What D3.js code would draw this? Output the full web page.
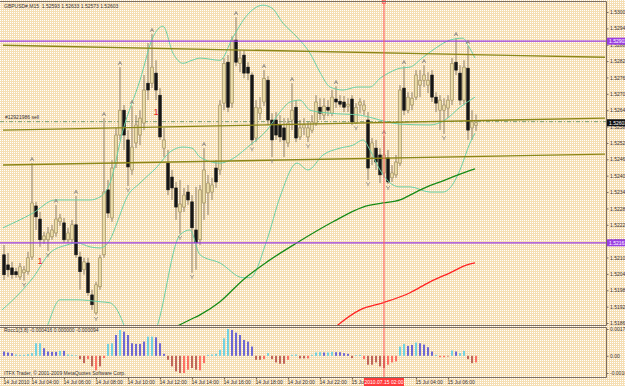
<!DOCTYPE html>
<html>
<head>
<meta charset="utf-8">
<script src="https://cdn.jsdelivr.net/npm/d3@7/dist/d3.min.js"></script>
<style>
  html, body { margin: 0; padding: 0; overflow: hidden; background: #f5deb3; }
  text { font-family: 'Liberation Sans', Arial, sans-serif; }
</style>
</head>
<body>
<div id="chart"></div>
<script>
// ── Colours ─────────────────────────────────────────────────────
const C = {
  bg: '#f5deb3', dot: '#ffffff', frame: '#7d6e60', text: '#3a3030',
  bullFill: '#e8d9a6', bullLine: '#948456', bearFill: '#161616', wick: '#908068',
  band: '#6ccfa5', ma1: '#178a17', ma2: '#ff2424', trend: '#8c8618',
  purple: '#9a3ee2', vline: '#ff5a5a', sell: '#5f8a58', fractal: '#8a8580',
  signal: '#e81c1c',
  hist: { c: '#2cc6f0', b: '#2424dc', r: '#ff3434', d: '#a42222' },
};

// ── GBPUSD M15 bars, 14 Jul 02:15 → 15 Jul 07:45 ────────────────
const opens = [
  1.52119,1.52082,1.52071,1.52057,1.52038,1.52053,1.52057,1.52111,1.52298,1.52250,
  1.52174,1.52174,1.52185,1.52199,1.52240,1.52236,1.52174,1.52174,1.52229,1.52111,
  1.52064,1.52089,1.51972,1.51906,1.52002,1.52119,1.52357,1.52254,1.52455,1.52558,
  1.52649,1.52540,1.52430,1.52529,1.52558,1.52602,1.52748,1.52748,1.52785,1.52704,
  1.52510,1.52455,1.52404,1.52364,1.52276,1.52294,1.52349,1.52313,1.52210,1.52174,
  1.52309,1.52346,1.52349,1.52437,1.52430,1.52675,1.52825,1.52675,1.52906,1.52821,
  1.52851,1.52807,1.52778,1.52547,1.52638,1.52679,1.52759,1.52613,1.52613,1.52595,
  1.52584,1.52529,1.52613,1.52660,1.52551,1.52584,1.52551,1.52576,1.52602,1.52660,
  1.52631,1.52660,1.52638,1.52690,1.52682,1.52679,1.52664,1.52690,1.52602,1.52668,
  1.52649,1.52613,1.52477,1.52510,1.52485,1.52419,1.52474,1.52401,1.52412,1.52455,
  1.52730,1.52649,1.52668,1.52697,1.52741,1.52759,1.52741,1.52778,1.52697,1.52649,
  1.52649,1.52657,1.52686,1.52825,1.52785,1.52686,1.52803,1.52584,1.52593
];
const highs = [
  1.52155,1.52126,1.52093,1.52071,1.52089,1.52078,1.52130,1.52455,1.52313,1.52276,
  1.52203,1.52221,1.52229,1.52302,1.52269,1.52254,1.52218,1.52247,1.52335,1.52130,
  1.52108,1.52108,1.51991,1.52020,1.52119,1.52620,1.52393,1.52466,1.52584,1.52807,
  1.52668,1.52576,1.52664,1.52631,1.52649,1.52778,1.52895,1.52928,1.52832,1.52730,
  1.52584,1.52503,1.52430,1.52386,1.52393,1.52364,1.52375,1.52338,1.52368,1.52375,
  1.52510,1.52412,1.52401,1.52466,1.52686,1.52840,1.52851,1.52920,1.52990,1.52869,
  1.52869,1.52825,1.52788,1.52686,1.52697,1.52796,1.52774,1.52638,1.52642,1.52631,
  1.52620,1.52620,1.52748,1.52686,1.52613,1.52620,1.52606,1.52631,1.52704,1.52693,
  1.52693,1.52686,1.52723,1.52737,1.52704,1.52701,1.52693,1.52704,1.52675,1.52693,
  1.52686,1.52642,1.52547,1.52540,1.52510,1.52554,1.52503,1.52448,1.52485,1.52741,
  1.52810,1.52715,1.52715,1.52796,1.52796,1.52814,1.52788,1.52796,1.52715,1.52704,
  1.52693,1.52704,1.52840,1.52913,1.52814,1.52832,1.52884,1.52649,1.52633
];
const lows = [
  1.52027,1.52038,1.52031,1.52035,1.52027,1.52024,1.52046,1.52100,1.52210,1.52148,
  1.52159,1.52133,1.52174,1.52185,1.52225,1.52163,1.52163,1.52163,1.52108,1.51991,
  1.52046,1.51969,1.51917,1.51899,1.51991,1.52108,1.52254,1.52240,1.52437,1.52540,
  1.52503,1.52371,1.52412,1.52510,1.52521,1.52576,1.52686,1.52730,1.52686,1.52540,
  1.52477,1.52338,1.52320,1.52247,1.52196,1.52276,1.52302,1.52053,1.52064,1.52155,
  1.52247,1.52265,1.52320,1.52364,1.52412,1.52649,1.52642,1.52657,1.52810,1.52788,
  1.52766,1.52759,1.52521,1.52532,1.52613,1.52664,1.52595,1.52477,1.52540,1.52532,
  1.52477,1.52514,1.52576,1.52532,1.52540,1.52558,1.52532,1.52565,1.52591,1.52613,
  1.52613,1.52627,1.52627,1.52657,1.52660,1.52642,1.52642,1.52595,1.52598,1.52638,
  1.52631,1.52393,1.52448,1.52430,1.52382,1.52401,1.52379,1.52386,1.52401,1.52444,
  1.52631,1.52638,1.52649,1.52686,1.52697,1.52734,1.52712,1.52679,1.52642,1.52576,
  1.52562,1.52620,1.52668,1.52778,1.52668,1.52668,1.52540,1.52540,1.52573
];
const closes = [
  1.52046,1.52064,1.52046,1.52046,1.52075,1.52064,1.52108,1.52309,1.52258,1.52174,
  1.52188,1.52199,1.52210,1.52250,1.52254,1.52174,1.52199,1.52229,1.52119,1.52057,
  1.52093,1.51980,1.51936,1.52009,1.52108,1.52349,1.52272,1.52437,1.52558,1.52649,
  1.52558,1.52441,1.52514,1.52595,1.52620,1.52723,1.52723,1.52807,1.52723,1.52551,
  1.52540,1.52357,1.52364,1.52294,1.52305,1.52338,1.52320,1.52218,1.52163,1.52357,
  1.52430,1.52382,1.52375,1.52386,1.52668,1.52821,1.52660,1.52906,1.52825,1.52840,
  1.52785,1.52785,1.52540,1.52660,1.52657,1.52766,1.52613,1.52540,1.52558,1.52551,
  1.52540,1.52602,1.52649,1.52547,1.52584,1.52595,1.52584,1.52606,1.52679,1.52638,
  1.52664,1.52649,1.52697,1.52679,1.52671,1.52660,1.52671,1.52606,1.52660,1.52679,
  1.52668,1.52437,1.52529,1.52459,1.52412,1.52485,1.52386,1.52419,1.52459,1.52723,
  1.52649,1.52697,1.52693,1.52778,1.52759,1.52778,1.52759,1.52697,1.52675,1.52686,
  1.52668,1.52686,1.52821,1.52796,1.52686,1.52807,1.52576,1.52606,1.52603
];

// ── Indicator lines: [bar index, price] ─────────────────────────
const bbUpper = [
  [-0.25,1.52218],[7.25,1.52272],[12.75,1.52320],[21.5,1.52320],[24,1.52331],[26.5,1.52382],
  [29.75,1.52576],[34,1.52759],[37.25,1.52917],[39.75,1.52957],[42.25,1.52858],[44.75,1.52821],
  [47,1.52832],[49,1.52840],[54,1.52832],[57.25,1.52917],[60.75,1.52997],[64.75,1.53034],
  [67,1.53023],[69.75,1.52968],[73.25,1.52917],[76.5,1.52858],[79,1.52788],[81.5,1.52734],
  [84.75,1.52723],[88.25,1.52734],[91.5,1.52734],[94,1.52766],[96.5,1.52788],[99,1.52803],
  [101.5,1.52807],[104.75,1.52843],[108.25,1.52880],[111.5,1.52906],[114.75,1.52913],
  [116,1.52887],[117.75,1.52840]
];
const bbMiddle = [
  [-0.5,1.51917],[4,1.51980],[7.25,1.52035],[11.5,1.52126],[15.75,1.52155],[18.25,1.52163],
  [21.5,1.52148],[24,1.52144],[26.5,1.52174],[28.25,1.52236],[30.75,1.52331],[34,1.52382],
  [38.25,1.52441],[41.5,1.52496],[44.75,1.52514],[47,1.52510],[49,1.52477],[54,1.52455],
  [56.5,1.52466],[61.5,1.52521],[65.75,1.52576],[69,1.52642],[71.5,1.52679],[74,1.52686],
  [76.5,1.52649],[81.5,1.52638],[89,1.52631],[92.25,1.52620],[95.75,1.52606],[99,1.52598],
  [106.5,1.52595],[110.25,1.52613],[114,1.52660],[117.75,1.52697]
];
const bbLower = [
  [9,1.51789],[10.75,1.51855],[14,1.51954],[18.25,1.51954],[24,1.51947],[26.5,1.51943],
  [29.75,1.51870],[31.5,1.51789],[34,1.51698],[36.5,1.51789],[38.25,1.51855],[44,1.52192],
  [46.5,1.52210],[49,1.52119],[54,1.52089],[59.75,1.52035],[61.5,1.52035],[65.75,1.52174],
  [69,1.52331],[73.25,1.52455],[76,1.52430],[79.75,1.52485],[84,1.52510],[87.25,1.52521],
  [89.75,1.52540],[91.5,1.52503],[94,1.52430],[97.25,1.52375],[99,1.52368],[101.5,1.52368],
  [106.5,1.52349],[109.75,1.52349],[111.5,1.52364],[114,1.52430],[116.5,1.52529],[117.75,1.52565]
];
const maGreen = [
  [39,1.51826],[43.5,1.51859],[46.5,1.51881],[49,1.51899],[54,1.51947],[59.75,1.52027],
  [65.75,1.52093],[73.25,1.52163],[82.25,1.52240],[89.75,1.52294],[94.75,1.52309],[99,1.52320],
  [101.5,1.52338],[105.75,1.52368],[109.75,1.52390],[114,1.52415],[117.75,1.52434]
];
const maRed = [
  [81.5,1.51837],[83.5,1.51862],[89,1.51917],[94.75,1.51943],[101.5,1.51980],[106.5,1.52020],
  [111.5,1.52053],[115.75,1.52082],[117.75,1.52089]
];

// ── Fractals and signal marks ───────────────────────────────────
const upFractals   = [7, 13, 18, 25, 29, 32, 37, 50, 58, 65, 72, 83, 95, 100, 105, 113, 116];
const downFractals = [5, 11, 23, 31, 44, 47, 62, 67, 76, 88, 91, 96, 110];
const signalBars   = [9, 38];
const signalPrices = [1.52097, 1.52642];

// ── Chart objects ───────────────────────────────────────────────
const purpleLevels = [1.52902, 1.52163];
const trendLines = [
  [[-0.25, 1.52887], [150.25, 1.52843]],
  [[-0.25, 1.52576], [150.25, 1.52620]],
  [[-0.25, 1.52448], [150.25, 1.52488]],
];
const sellLevel = 1.52607;
const sellLabel = '#12921986 sell';
const bidPrice = 1.52603;
const cursorBar = 95;
const cursorLabel = '2010.07.15 02:00';

// ── Sub window: Rocc1(3,8) histogram ────────────────────────────
const rocValues = [
  0.000273,0.000210,0.000168,0.000084,0.000063,0.000063,0.000105,0.000168,0.000798,0.000798,
  0.000483,0.000273,0.000252,0.000252,0.000315,0.000315,0.000084,0.000063,0.000042,-0.000210,
  -0.000462,-0.000210,-0.000672,-0.000924,-0.000672,-0.000147,0.000756,0.000798,0.001323,0.001638,
  0.001533,0.001323,0.000798,0.000756,0.000756,0.000903,0.001218,0.001218,0.001176,0.000798,
  0.000126,-0.000252,-0.000672,-0.000987,-0.001092,-0.001092,-0.000882,-0.000777,-0.000882,-0.000924,
  -0.000462,0.000063,0.000084,0.000126,0.000378,0.001113,0.001704,0.001638,0.001470,0.001323,
  0.001008,0.000903,0.000588,-0.000252,-0.000252,-0.000210,0.000168,-0.000210,-0.000420,-0.000504,
  -0.000504,-0.000252,0.000063,0.000084,-0.000168,-0.000168,-0.000168,0.000063,0.000210,0.000231,
  0.000210,0.000210,0.000252,0.000231,0.000231,0.000168,0.000126,-0.000147,0.000042,0.000063,
  -0.000210,-0.000567,-0.000567,-0.000420,-0.000672,-0.000777,-0.000567,-0.000420,-0.000357,0.000588,
  0.000756,0.000630,0.000693,0.000840,0.000798,0.000714,0.000546,0.000273,0.000063,-0.000084,
  -0.000084,-0.000042,0.000336,0.000273,0.000168,0.000315,-0.000210,-0.000462,-0.000420
];
// c = rising up, b = falling up, r / d = the two down colours
const rocColors = ('bbbccccccc' + 'bbbbcbcccd' + 'drdrdrccbc' + 'bbbbbbccbb' + 'bddddrrddr' +
                   'rccccccbbb' + 'bbbddrcddd' + 'drccddrccc' + 'bccbbbbdcc' + 'rdddddrrrc' +
                   'cbbcbbbbcr' + 'rdcbccddr').split('');

// ── Axis labels ─────────────────────────────────────────────────
const priceTicks = [1.53009,1.52949,1.52889,1.52829,1.52769,1.52709,1.52649,1.52589,1.52529,1.52469,
                    1.52409,1.52349,1.52289,1.52229,1.52169,1.52109,1.52049,1.51989,1.51929,1.51869];
const subTicks = [0.001704, 0, -0.001092];
const subTickLabels = ['0.001704', '0.00', '-0.001092'];
// the 02:00 label sits under the cursor box, so it is left out
const timeTickBars = [0, 7, 15, 23, 31, 39, 47, 55, 63, 71, 79, 87, 103, 111];
const timeTickLabels = ['14 Jul 2010','14 Jul 04:00','14 Jul 06:00','14 Jul 08:00','14 Jul 10:00',
  '14 Jul 12:00','14 Jul 14:00','14 Jul 16:00','14 Jul 18:00','14 Jul 20:00','14 Jul 22:00',
  '15 Jul 2010','15 Jul 04:00','15 Jul 06:00'];

const headerText = 'GBPUSD#,M15  1.52593 1.52633 1.52573 1.52603';
const subTitle = 'Rocc1(3,8) -0.000416 0.000000 -0.000094';
const copyright = 'ITFX Trader, © 2001-2009 MetaQuotes Software Corp.';

// ── Layout ──────────────────────────────────────────────────────
const W = 625, H = 386;
const PLOT_R = 606;                 // right edge of both windows
const MAIN = { top: 2, bottom: 325 };
const SUB  = { top: 328, bottom: 377 };
const FS = 5;                       // terminal font, scaled down

const x = d3.scaleLinear().domain([0, 118]).range([4, 476]);
const y = d3.scaleLinear().domain([1.51869, 1.53009]).range([323, 12]);
const ySub = d3.scaleLinear().domain([-0.001092, 0.001704]).range([373, 329]);

const svg = d3.select('#chart').append('svg')
  .attr('width', W).attr('height', H)
  .attr('viewBox', `0 0 ${W} ${H}`)
  .style('display', 'block');

// ── Defs ────────────────────────────────────────────────────────
const defs = svg.append('defs');
const pat = defs.append('pattern').attr('id', 'dither')
  .attr('width', 2).attr('height', 2).attr('patternUnits', 'userSpaceOnUse');
pat.append('rect').attr('width', 2).attr('height', 2).attr('fill', C.bg);
pat.append('rect').attr('width', 1).attr('height', 1).attr('fill', C.dot);

defs.append('clipPath').attr('id', 'clip-main').append('rect')
  .attr('x', 0).attr('y', MAIN.top).attr('width', PLOT_R).attr('height', MAIN.bottom - MAIN.top);
defs.append('clipPath').attr('id', 'clip-sub').append('rect')
  .attr('x', 0).attr('y', SUB.top).attr('width', PLOT_R).attr('height', SUB.bottom - SUB.top);

svg.append('rect').attr('width', W).attr('height', H).attr('fill', 'url(#dither)');

// ── Main window ─────────────────────────────────────────────────
const main = svg.append('g').attr('clip-path', 'url(#clip-main)');

// sell order line
main.append('line')
  .attr('x1', 0).attr('x2', PLOT_R)
  .attr('y1', y(sellLevel)).attr('y2', y(sellLevel))
  .attr('stroke', C.sell).attr('stroke-width', 0.8)
  .attr('stroke-dasharray', '4,2,1,2');
main.append('text')
  .attr('x', 5).attr('y', y(sellLevel) - 2.5)
  .attr('font-size', FS).attr('fill', C.text)
  .text(sellLabel);

// candles
const bars = d3.range(opens.length).map(i => ({
  i, o: opens[i], h: highs[i], l: lows[i], c: closes[i],
}));

main.append('g').selectAll('line').data(bars).join('line')
  .attr('x1', d => x(d.i)).attr('x2', d => x(d.i))
  .attr('y1', d => y(d.h)).attr('y2', d => y(d.l))
  .attr('stroke', C.wick).attr('stroke-width', 1);

main.append('g').selectAll('rect').data(bars).join('rect')
  .attr('x', d => x(d.i) - 1.3)
  .attr('width', 2.6)
  .attr('y', d => y(Math.max(d.o, d.c)))
  .attr('height', d => Math.max(0.8, Math.abs(y(d.o) - y(d.c))))
  .attr('fill', d => d.c >= d.o ? C.bullFill : C.bearFill)
  .attr('stroke', d => d.c >= d.o ? C.bullLine : C.bearFill)
  .attr('stroke-width', 0.6);

// bollinger bands and moving averages
const line = d3.line()
  .x(d => x(d[0])).y(d => y(d[1]))
  .curve(d3.curveMonotoneX);

[bbUpper, bbMiddle, bbLower].forEach(band => {
  main.append('path').attr('d', line(band))
    .attr('fill', 'none').attr('stroke', C.band).attr('stroke-width', 1);
});
main.append('path').attr('d', line(maGreen))
  .attr('fill', 'none').attr('stroke', C.ma1).attr('stroke-width', 1.3);
main.append('path').attr('d', line(maRed))
  .attr('fill', 'none').attr('stroke', C.ma2).attr('stroke-width', 1.3);

// trend lines
trendLines.forEach(t => {
  main.append('line')
    .attr('x1', x(t[0][0])).attr('y1', y(t[0][1]))
    .attr('x2', x(t[1][0])).attr('y2', y(t[1][1]))
    .attr('stroke', C.trend).attr('stroke-width', 1.4);
});

// horizontal levels
purpleLevels.forEach(p => {
  main.append('line')
    .attr('x1', 0).attr('x2', PLOT_R)
    .attr('y1', y(p)).attr('y2', y(p))
    .attr('stroke', C.purple).attr('stroke-width', 1.2);
});

// fractals
main.append('g').selectAll('path').data(upFractals).join('path')
  .attr('transform', i => `translate(${x(i)},${y(highs[i]) - 4})`)
  .attr('d', 'M-1.8,1.8 L0,-1.8 L1.8,1.8 M-1,0.4 H1')
  .attr('fill', 'none').attr('stroke', C.fractal).attr('stroke-width', 0.8);
main.append('g').selectAll('path').data(downFractals).join('path')
  .attr('transform', i => `translate(${x(i)},${y(lows[i]) + 4})`)
  .attr('d', 'M-1.8,-1.8 L0,0.6 L1.8,-1.8 M0,0.6 V2.2')
  .attr('fill', 'none').attr('stroke', C.fractal).attr('stroke-width', 0.8);

// signal marks
main.append('g').selectAll('text').data(signalBars).join('text')
  .attr('x', d => x(d)).attr('y', (d, k) => y(signalPrices[k]) + 3)
  .attr('text-anchor', 'middle')
  .attr('font-family', "'Liberation Serif', serif")
  .attr('font-size', 9).attr('fill', C.signal)
  .text('1');

// header
svg.append('text')
  .attr('x', 4).attr('y', 7.5)
  .attr('font-size', FS).attr('fill', C.text)
  .attr('xml:space', 'preserve')
  .text(headerText);

// ── Sub window ──────────────────────────────────────────────────
const sub = svg.append('g').attr('clip-path', 'url(#clip-sub)');
sub.append('g').selectAll('rect').data(rocValues).join('rect')
  .attr('x', (d, i) => x(i) - 0.65)
  .attr('width', 1.3)
  .attr('y', d => Math.min(ySub(0), ySub(d)))
  .attr('height', d => Math.abs(ySub(d) - ySub(0)))
  .attr('fill', (d, i) => C.hist[rocColors[i]]);

svg.append('text')
  .attr('x', 4).attr('y', 332)
  .attr('font-size', FS).attr('fill', C.text)
  .text(subTitle);
svg.append('text')
  .attr('x', 4).attr('y', 375)
  .attr('font-size', FS).attr('fill', C.text)
  .text(copyright);

// ── Cursor line through both windows ────────────────────────────
svg.append('line')
  .attr('x1', x(cursorBar)).attr('x2', x(cursorBar))
  .attr('y1', MAIN.top).attr('y2', SUB.bottom)
  .attr('stroke', C.vline).attr('stroke-width', 1);
svg.append('rect')
  .attr('x', x(cursorBar) - 1.5).attr('y', 0.5).attr('width', 3).attr('height', 3)
  .attr('fill', 'none').attr('stroke', C.vline).attr('stroke-width', 0.8);

// ── Frames ──────────────────────────────────────────────────────
svg.append('path')
  .attr('d', `M0,1.5 H${PLOT_R + 0.5} V${MAIN.bottom + 0.5} H0`)
  .attr('fill', 'none').attr('stroke', C.frame).attr('stroke-width', 1);
svg.append('path')
  .attr('d', `M0,${SUB.top - 0.5} H${PLOT_R + 0.5} V${SUB.bottom + 0.5} H0`)
  .attr('fill', 'none').attr('stroke', C.frame).attr('stroke-width', 1);

// ── Axes ────────────────────────────────────────────────────────
function styleAxis(g) {
  g.attr('font-size', FS).attr('font-family', "'Liberation Sans', Arial, sans-serif");
  g.select('.domain').remove();
  g.selectAll('.tick line').attr('stroke', C.frame);
  g.selectAll('.tick text').attr('fill', C.text);
}

svg.append('g')
  .attr('transform', `translate(${PLOT_R + 0.5},0)`)
  .call(d3.axisRight(y).tickValues(priceTicks).tickSize(2).tickPadding(1.5)
    .tickFormat(d3.format('.5f')))
  .call(styleAxis);

svg.append('g')
  .attr('transform', `translate(${PLOT_R + 0.5},0)`)
  .call(d3.axisRight(ySub).tickValues(subTicks).tickSize(2).tickPadding(1.5)
    .tickFormat((d, i) => subTickLabels[i]))
  .call(styleAxis);

svg.append('g')
  .attr('transform', `translate(0,${SUB.bottom + 0.5})`)
  .call(d3.axisBottom(x).tickValues(timeTickBars).tickSize(2).tickPadding(1)
    .tickFormat((d, i) => timeTickLabels[i]))
  .call(styleAxis)
  .call(g => g.selectAll('.tick text').attr('text-anchor', 'start').attr('x', -1));

// price highlight boxes on the axis
function axisBox(price, fill, label) {
  const g = svg.append('g').attr('transform', `translate(${PLOT_R + 1},${y(price)})`);
  g.append('rect').attr('x', 0).attr('y', -3.5).attr('width', W - PLOT_R).attr('height', 7)
    .attr('fill', fill);
  g.append('text').attr('x', 2).attr('y', 1.8)
    .attr('font-size', FS).attr('fill', '#ffffff').text(label);
}
purpleLevels.forEach(p => axisBox(p, C.purple, d3.format('.5f')(p)));
axisBox(bidPrice, '#101010', d3.format('.5f')(bidPrice));

// cursor time box
const cb = svg.append('g').attr('transform', `translate(${x(cursorBar)},${SUB.bottom + 1})`);
cb.append('rect').attr('x', -20).attr('y', 0).attr('width', 40).attr('height', 8)
  .attr('fill', '#ff3b3b');
cb.append('text').attr('x', 0).attr('y', 6)
  .attr('text-anchor', 'middle')
  .attr('font-size', FS).attr('fill', '#ffffff')
  .text(cursorLabel);
</script>
</body>
</html>
